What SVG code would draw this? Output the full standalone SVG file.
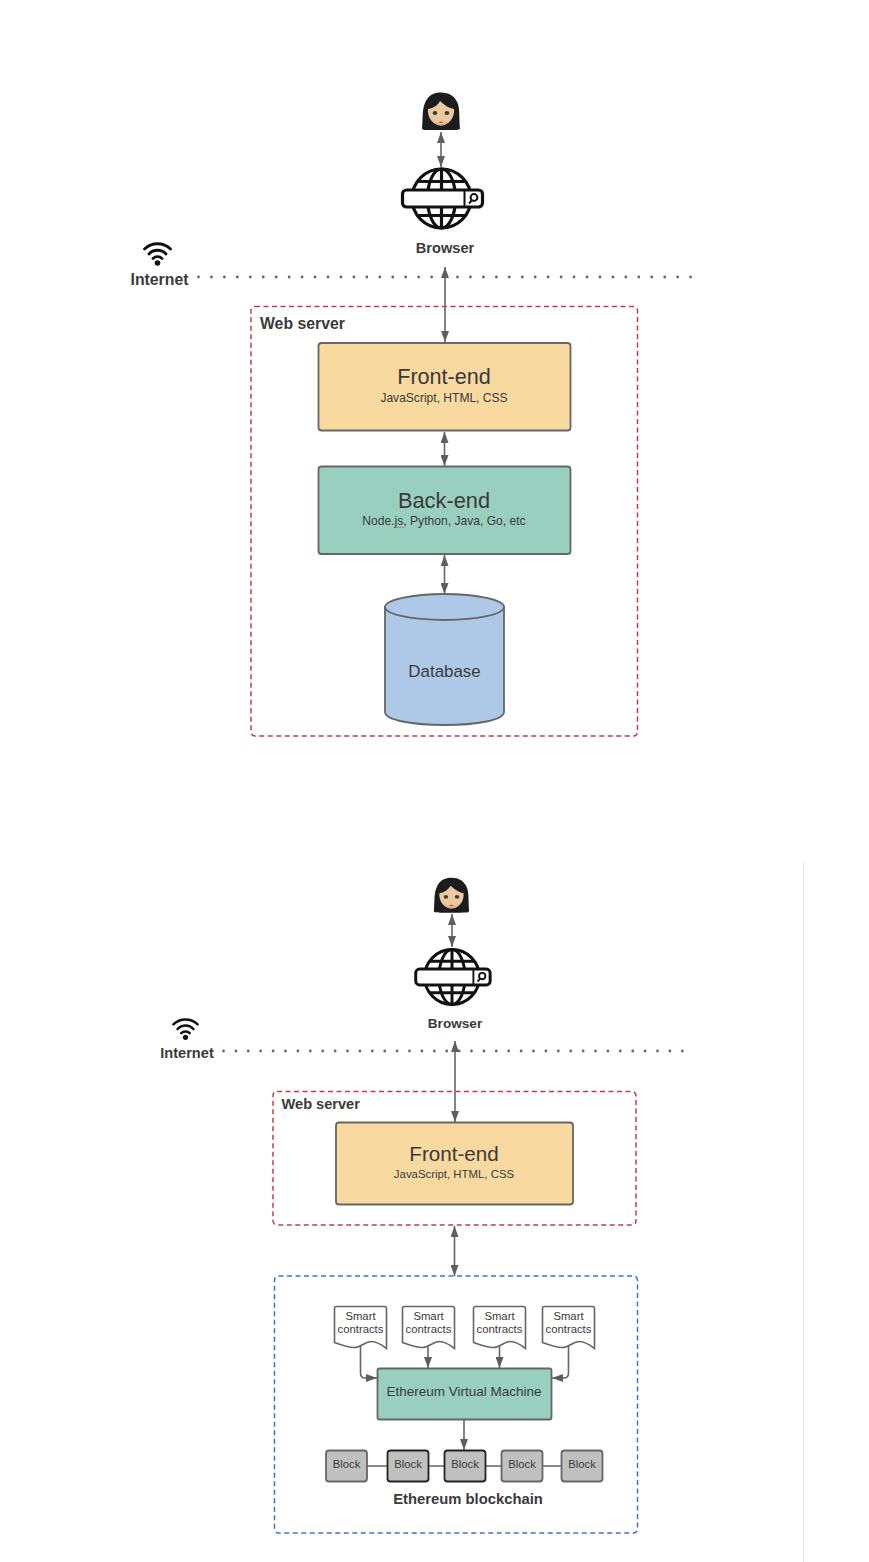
<svg xmlns="http://www.w3.org/2000/svg" width="869" height="1562" viewBox="0 0 869 1562">
<style>
text{font-family:"Liberation Sans",Arial,sans-serif;fill:#3a3a3a;text-anchor:middle}
.b{font-weight:bold}
.l{text-anchor:start}
.box{stroke:#666;stroke-width:1.8}
.fe{fill:#f8d9a0}
.teal{fill:#99cfbf}
.blk{fill:#c0c0c0;stroke:#666;stroke-width:1.8}
.blkd{fill:#c0c0c0;stroke:#222;stroke-width:1.8}
.doc{fill:#fff;stroke:#666;stroke-width:1.6}
.red{fill:none;stroke:#c23d4b;stroke-width:1.5;stroke-dasharray:5 3.5}
.blue{fill:none;stroke:#3f74c4;stroke-width:1.5;stroke-dasharray:5 3.5}
.c{fill:none;stroke:#666;stroke-width:1.6}
.dots{fill:none;stroke:#666;stroke-width:2.8;stroke-linecap:round}
.g{fill:none;stroke:#111;stroke-width:3.2}
</style>
<defs>
<marker id="a" viewBox="0 0 11 8" refX="11" refY="4" markerWidth="11" markerHeight="8" markerUnits="userSpaceOnUse" orient="auto-start-reverse"><path d="M0 0L11 4L0 8Z" fill="#5e5e5e"/></marker>
<g id="globe">
<circle class="g" cx="0" cy="0" r="29.500"/>
<ellipse class="g" cx="0" cy="0" rx="14" ry="29.500"/>
<path class="g" d="M0-29.500V29.500M-24-17H24M-29-7H29M-29 7H29M-24 17H24"/>
<rect x="-39" y="-8.500" width="80" height="17" rx="4" fill="#fff" stroke="#111" stroke-width="3.200"/>
<path d="M23-8.500V8.500" fill="none" stroke="#111" stroke-width="2"/>
<circle cx="32.500" cy="-1" r="3.400" fill="none" stroke="#111" stroke-width="2"/>
<path d="M30 2L27.500 5" stroke="#111" stroke-width="2"/>
</g>
<g id="person">
<path d="M-19 17C-18 8-19-2-16-8C-13-16-7-18.500 0-18.500C8-18.500 14-15 17-7C19 0 18 9 19 17C19 19 16 19 10 19L-12 19C-17 19-19 19-19 17Z" fill="#1c1c1c"/>
<path d="M-13-2C-7-3-3-6-1-10C3-6 8-3 13-2C14 6 8 14.500 0 14.500C-8 14.500-14 6-13-2Z" fill="#ecc9a2"/>
<path d="M-9 9Q0 17 9 9Q5 14.500 0 14.500Q-5 14.500-9 9Z" fill="#d9ab80"/>
<ellipse cx="-6" cy="2" rx="2.400" ry="2.100" fill="#4a3a2c"/>
<ellipse cx="6" cy="2" rx="2.400" ry="2.100" fill="#4a3a2c"/>
<path d="M-3 11Q0 10 3 11Q0 13-3 11Z" fill="#b5614f"/>
</g>
<g id="wifi">
<path d="M-13-5C-6-12 6-12 13-5M-8.500 0C-4-5 4-5 8.500 0M-4.500 4.500C-2 2 2 2 4.500 4.500" fill="none" stroke="#111" stroke-width="2.800" stroke-linecap="round"/>
<circle cx="0" cy="9" r="2.800" fill="#111"/>
</g>
<path id="docshape" d="M0 2Q0 0 2 0H50Q52 0 52 2V42C48 39 43 35 37 35C30 35 27 41 20 41C14 41 8 39 0 36Z"/>
</defs>

<rect width="869" height="1562" fill="#fff"/>
<path d="M803.500 862V1562" stroke="#e4e4e4" stroke-width="1" fill="none"/>

<g id="connectors">
<path class="dots" d="M198.500 277H691" stroke-dasharray="0 12.950"/>
<path class="dots" d="M223.500 1051H686" stroke-dasharray="0 12.400"/>
<path class="c" d="M441 132V167" marker-start="url(#a)" marker-end="url(#a)"/>
<path class="c" d="M445 267V342" marker-start="url(#a)" marker-end="url(#a)"/>
<path class="c" d="M444.500 432V466" marker-start="url(#a)" marker-end="url(#a)"/>
<path class="c" d="M444.500 555V594" marker-start="url(#a)" marker-end="url(#a)"/>
<path class="c" d="M452 914V947" marker-start="url(#a)" marker-end="url(#a)"/>
<path class="c" d="M455 1041V1122" marker-start="url(#a)" marker-end="url(#a)"/>
<path class="c" d="M454.500 1226V1276" marker-start="url(#a)" marker-end="url(#a)"/>
<path class="c" d="M360.500 1345V1373Q360.500 1378 365 1378H377" marker-end="url(#a)"/>
<path class="c" d="M428 1345V1368" marker-end="url(#a)"/>
<path class="c" d="M499.500 1345V1368" marker-end="url(#a)"/>
<path class="c" d="M568.500 1345V1373Q568.500 1378 564 1378H552" marker-end="url(#a)"/>
<path class="c" d="M464 1420V1450" marker-end="url(#a)"/>
<path class="c" d="M367 1466H561"/>
</g>

<g id="user-1"><use href="#person" x="441" y="111"/></g>
<g id="browser-1"><use href="#globe" x="441.500" y="198.500"/><text class="b" x="445" y="253" font-size="14.600">Browser</text></g>
<g id="internet-1"><use href="#wifi" x="157.500" y="254"/><text class="b" x="159.500" y="285" font-size="15.800">Internet</text></g>
<g id="webserver-1"><rect class="red" x="251" y="306.500" width="386.500" height="429.500" rx="4"/><text class="b l" x="260" y="328.500" font-size="15.800">Web server</text></g>
<g id="frontend-1"><rect class="box fe" x="318.500" y="343" width="252" height="87.500" rx="3"/><text x="444" y="384" font-size="21.600">Front-end</text><text x="444" y="401.500" font-size="12.050">JavaScript, HTML, CSS</text></g>
<g id="backend-1"><rect class="box teal" x="318.500" y="466.500" width="252" height="87.500" rx="3"/><text x="444" y="507.500" font-size="21.800">Back-end</text><text x="444" y="525" font-size="12.100">Node.js, Python, Java, Go, etc</text><path d="M394.500 527.500H404" stroke="#c0504d" stroke-width=".8" stroke-dasharray="1.500 1" fill="none"/></g>
<g id="database-1"><path d="M385 607V712C385 720 412 725 444.500 725C477 725 504 720 504 712V607Z" fill="#aec9e8" stroke="#666" stroke-width="1.800"/><ellipse cx="444.500" cy="607" rx="59.500" ry="13" fill="#aec9e8" stroke="#666" stroke-width="1.800"/><text x="444.500" y="677" font-size="16.900">Database</text></g>

<g id="user-2"><use href="#person" transform="translate(451.500 895) scale(.93)"/></g>
<g id="browser-2"><use href="#globe" transform="translate(452 977) scale(.93)"/><text class="b" x="455" y="1028" font-size="13.600">Browser</text></g>
<g id="internet-2"><use href="#wifi" transform="translate(185.500 1029) scale(.93)"/><text class="b" x="187" y="1058" font-size="14.600">Internet</text></g>
<g id="webserver-2"><rect class="red" x="273" y="1091.500" width="363" height="133.500" rx="4"/><text class="b l" x="281.500" y="1109" font-size="14.600">Web server</text></g>
<g id="frontend-2"><rect class="box fe" x="336" y="1122.500" width="237" height="82" rx="3"/><text x="454" y="1161" font-size="20.600">Front-end</text><text x="454" y="1178" font-size="11.400">JavaScript, HTML, CSS</text></g>
<g id="ethereum"><rect class="blue" x="274.500" y="1276" width="363" height="257" rx="4"/><text class="b" x="468" y="1503.500" font-size="14.800">Ethereum blockchain</text></g>
<g id="sc-1"><use class="doc" href="#docshape" x="334.500" y="1306.500"/><text x="360.500" y="1320" font-size="11.300">Smart</text><text x="360.500" y="1333" font-size="11.300">contracts</text></g>
<g id="sc-2"><use class="doc" href="#docshape" x="402.500" y="1306.500"/><text x="428.500" y="1320" font-size="11.300">Smart</text><text x="428.500" y="1333" font-size="11.300">contracts</text></g>
<g id="sc-3"><use class="doc" href="#docshape" x="473.500" y="1306.500"/><text x="499.500" y="1320" font-size="11.300">Smart</text><text x="499.500" y="1333" font-size="11.300">contracts</text></g>
<g id="sc-4"><use class="doc" href="#docshape" x="542.500" y="1306.500"/><text x="568.500" y="1320" font-size="11.300">Smart</text><text x="568.500" y="1333" font-size="11.300">contracts</text></g>
<g id="evm"><rect class="box teal" x="377.500" y="1368.500" width="174" height="51" rx="2"/><text x="464" y="1396" font-size="13.500">Ethereum Virtual Machine</text></g>
<g id="block-1"><rect class="blk" x="326" y="1450.500" width="41" height="31" rx="3"/><text x="346.500" y="1468" font-size="11.300">Block</text></g>
<g id="block-2"><rect class="blkd" x="387.500" y="1450.500" width="41" height="31" rx="3"/><text x="408" y="1468" font-size="11.300">Block</text></g>
<g id="block-3"><rect class="blkd" x="444.500" y="1450.500" width="41" height="31" rx="3"/><text x="465" y="1468" font-size="11.300">Block</text></g>
<g id="block-4"><rect class="blk" x="501.500" y="1450.500" width="41" height="31" rx="3"/><text x="522" y="1468" font-size="11.300">Block</text></g>
<g id="block-5"><rect class="blk" x="561.500" y="1450.500" width="41" height="31" rx="3"/><text x="582" y="1468" font-size="11.300">Block</text></g>
</svg>
